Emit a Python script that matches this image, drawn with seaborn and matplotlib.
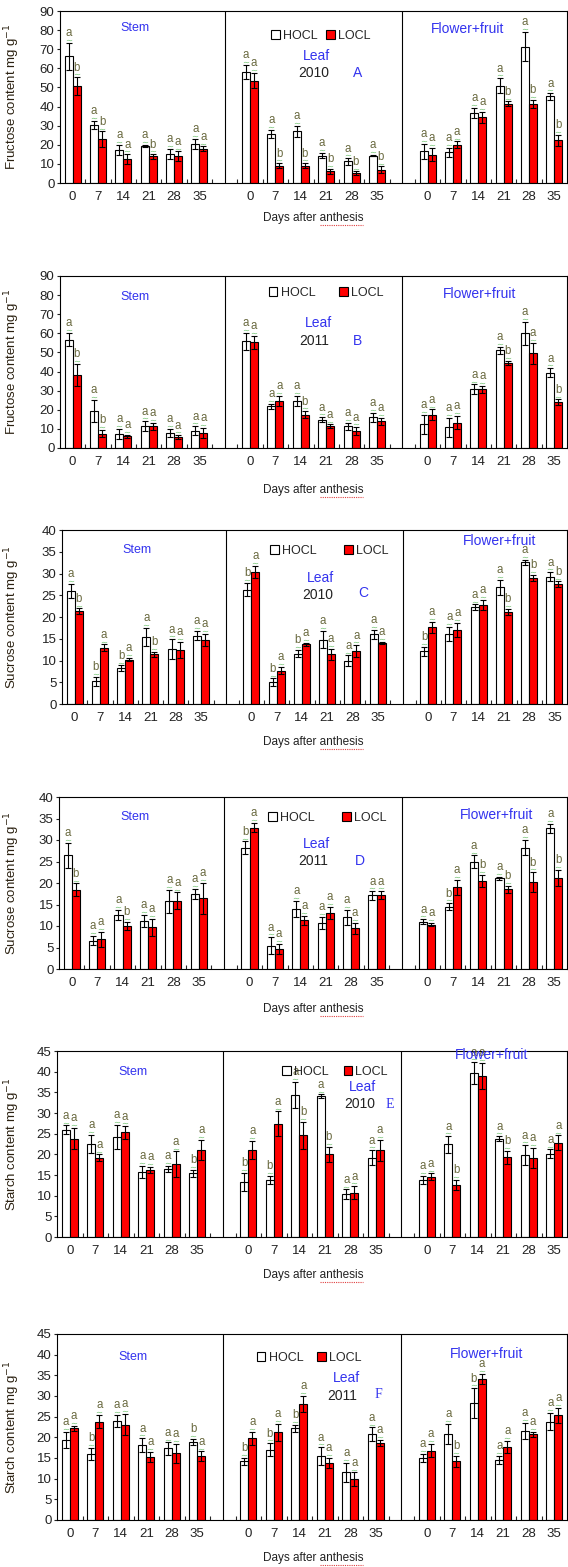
import numpy as np
import pandas as pd
import matplotlib
matplotlib.use("Agg")
import matplotlib.pyplot as plt
import matplotlib.transforms as mtransforms
from matplotlib.lines import Line2D
import seaborn as sns
from matplotlib.patches import Patch

sns.set_style("white")
plt.rcParams['font.family'] = ['Liberation Sans', 'DejaVu Sans']

days = ['0', '7', '14', '21', '28', '35']
organs = ['Stem', 'Leaf', 'Flower+fruit']
treatments = ['HOCL', 'LOCL']

# ---- Panel A: fructose 2010 (Stem | Leaf | Flower+fruit) ----
A_H = [66.2, 30.5, 17.4, 19.5, 15.3, 20.4, 58.0, 25.6, 27.0, 14.3, 11.3, 14.3, 16.5, 16.0, 36.6, 51.0, 71.4, 45.3]
A_He = [7.0, 2.2, 2.6, 0.5, 2.5, 2.6, 3.8, 2.3, 3.0, 1.4, 1.7, 0.4, 4.0, 2.3, 2.6, 3.8, 7.8, 1.7]
A_L = [50.8, 23.0, 12.5, 13.9, 14.0, 17.9, 53.6, 9.0, 9.0, 6.1, 5.2, 7.0, 14.8, 20.0, 34.5, 41.4, 41.4, 22.3]
A_Le = [4.6, 4.0, 2.6, 1.2, 2.5, 1.2, 4.0, 1.4, 1.4, 1.2, 0.9, 1.7, 3.5, 1.8, 2.9, 1.3, 2.1, 3.0]
A_Hl = "aaaaaa" "aaaaaa" "aaaaaa"
A_Ll = "bbabaa" "abbbbb" "aaabbb"

# ---- Panel B: fructose 2011 ----
B_H = [56.7, 19.3, 7.5, 11.4, 7.9, 9.1, 55.8, 21.9, 24.6, 14.9, 11.4, 16.1, 12.3, 10.9, 30.7, 51.2, 60.0, 39.5]
B_He = [3.5, 5.8, 2.6, 2.6, 2.3, 2.3, 4.4, 1.3, 2.6, 1.2, 1.8, 2.3, 5.2, 4.9, 2.6, 1.8, 6.1, 2.3]
B_L = [38.2, 7.5, 6.1, 11.4, 5.8, 7.9, 55.3, 24.6, 17.5, 11.4, 8.8, 14.0, 17.5, 13.2, 30.7, 44.4, 49.6, 24.0]
B_Le = [6.0, 2.0, 0.9, 1.8, 0.9, 2.6, 3.5, 2.6, 1.8, 0.9, 2.1, 1.8, 2.7, 3.5, 1.8, 1.2, 5.5, 1.4]
B_Hl = "aaaaaa" "aaaaaa" "aaaaaa"
B_Ll = "bbaaaa" "aabaaa" "aaabab"

# ---- Panel C: sucrose 2010 ----
C_H = [26.0, 5.25, 8.3, 15.4, 12.6, 15.7, 26.3, 5.0, 11.6, 14.8, 10.0, 16.0, 12.1, 16.1, 22.2, 26.8, 32.6, 29.3]
C_He = [1.6, 1.0, 0.6, 2.1, 2.3, 1.1, 1.5, 0.9, 0.9, 2.0, 1.2, 1.0, 1.0, 1.7, 0.7, 1.8, 0.6, 1.0]
C_L = [21.4, 12.9, 10.2, 11.4, 12.4, 14.8, 30.3, 7.7, 13.7, 11.4, 12.2, 14.1, 17.6, 17.1, 22.8, 21.2, 29.0, 27.6]
C_Le = [0.6, 0.8, 0.4, 0.6, 1.9, 1.4, 1.4, 0.8, 0.4, 1.3, 1.3, 0.2, 1.3, 1.6, 1.1, 0.7, 0.7, 0.6]
C_Hl = "abbaaa" "bbbaaa" "baaaaa"
C_Ll = "baabaa" "aaaaaa" "aaabbb"

# ---- Panel D: sucrose 2011 ----
D_H = [26.5, 6.6, 12.6, 11.2, 15.7, 17.4, 28.2, 5.4, 13.9, 10.8, 12.0, 17.1, 11.0, 14.5, 24.9, 21.1, 28.2, 32.7]
D_He = [2.9, 1.1, 1.1, 1.4, 2.7, 1.2, 1.5, 2.0, 1.9, 1.4, 1.7, 1.0, 0.6, 0.8, 1.5, 0.4, 1.8, 1.1]
D_L = [18.4, 6.9, 10.0, 9.7, 15.9, 16.4, 32.9, 4.6, 11.3, 13.1, 9.5, 17.2, 10.3, 19.0, 20.5, 18.5, 20.2, 21.1]
D_Le = [1.5, 1.8, 1.0, 2.0, 1.9, 3.7, 1.1, 1.2, 1.1, 1.4, 1.3, 0.9, 0.4, 1.7, 1.4, 0.9, 2.3, 1.9]
D_Hl = "aaaaaa" "baaaaa" "abaaaa"
D_Ll = "babaaa" "aaaaaa" "aabbbb"

# ---- Panel E: starch 2010 ----
E_H = [26.0, 22.5, 24.2, 15.7, 16.5, 15.4, 13.4, 13.8, 34.4, 34.1, 10.4, 19.2, 13.8, 22.4, 39.7, 23.8, 19.8, 20.2]
E_He = [1.0, 2.2, 3.0, 1.5, 0.7, 0.8, 2.2, 1.0, 3.2, 0.4, 1.1, 1.8, 1.0, 2.0, 2.6, 0.6, 2.4, 1.0]
E_L = [23.8, 19.2, 25.3, 16.2, 17.6, 21.1, 21.1, 27.4, 24.6, 20.0, 10.7, 21.0, 14.6, 12.6, 39.0, 19.3, 19.1, 22.8]
E_Le = [2.6, 0.8, 1.5, 0.8, 3.1, 2.4, 2.2, 3.0, 3.2, 1.8, 1.6, 2.5, 0.8, 1.2, 3.1, 1.6, 2.5, 1.8]
E_Hl = "aaaaab" "bbaaaa" "aaaaaa"
E_Ll = "aaaaaa" "aabbaa" "ababaa"

# ---- Panel F: starch 2011 ----
F_H = [19.4, 16.0, 24.0, 18.1, 17.3, 18.9, 14.2, 17.0, 22.2, 15.4, 11.5, 20.8, 15.0, 20.8, 28.3, 14.5, 21.5, 23.8]
F_He = [2.0, 1.5, 1.5, 1.7, 1.5, 0.7, 0.8, 1.6, 0.8, 2.2, 2.4, 1.6, 1.0, 2.4, 3.6, 1.0, 2.0, 2.1]
F_L = [22.2, 23.8, 23.1, 15.3, 16.1, 15.4, 19.8, 21.2, 28.1, 13.8, 9.9, 18.6, 16.8, 14.2, 34.2, 17.7, 20.8, 25.3]
F_Le = [0.6, 1.6, 2.6, 1.2, 2.3, 1.2, 1.6, 2.0, 2.0, 1.2, 1.6, 0.8, 1.6, 1.4, 1.2, 1.5, 0.6, 1.8]
F_Hl = "abaaab" "bbbaaa" "aabaaa"
F_Ll = "aaaaaa" "aaaaaa" "abaaaa"

panel_ylabels = ['Fructose content mg g$^{-1}$'] * 2 + ['Sucrose content mg g$^{-1}$'] * 2 + ['Starch content mg g$^{-1}$'] * 2
panel_ymax = [90, 90, 40, 40, 45, 45]
panel_ystep = [10, 10, 5, 5, 5, 5]
panel_years = ['2010', '2011', '2010', '2011', '2010', '2011']
panel_tags = ['A', 'B', 'C', 'D', 'E', 'F']

panels = [
    (A_H, A_He, A_Hl, A_L, A_Le, A_Ll),
    (B_H, B_He, B_Hl, B_L, B_Le, B_Ll),
    (C_H, C_He, C_Hl, C_L, C_Le, C_Ll),
    (D_H, D_He, D_Hl, D_L, D_Le, D_Ll),
    (E_H, E_He, E_Hl, E_L, E_Le, E_Ll),
    (F_H, F_He, F_Hl, F_L, F_Le, F_Ll),
]

# ---- layout (pixels) ----
W, H = 568, 1567
ax_px = [  # left, top, bottom
    (60, 11, 183), (60, 276, 448), (62, 530, 704),
    (59, 797, 969), (57, 1051, 1237), (57, 1334, 1520)]
right_px = 567
stem_pos = [(135, 28), (135, 297), (137, 550), (135, 817), (133, 1072), (133, 1357)]
flower_pos = [(468, 29), (480, 294), (500, 541), (497, 815), (492, 1055), (487, 1354)]
legend_pos = [(321, 36), (326, 293), (329, 551), (327, 818), (335, 1072), (309, 1358)]
legend_colsp = [0.7, 1.9, 2.2, 2.2, 1.2, 1.1]
leaf_pos = [(316, 56), (318, 323), (321, 578), (317, 844), (362, 1087), (346, 1378)]
year_pos = [(314, 73), (314, 341), (318, 595), (313, 861), (360, 1104), (342, 1396)]
tag_pos = [(358, 73), (357, 341), (363, 593), (360, 861), (390, 1104), (378, 1395)]
xlabel_y = [218, 490, 742, 1009, 1275, 1558]

BLUE = '#3333ee'
LETTER = '#6a6a40'
GREEN = '#5cb85c'
palette = {'HOCL': 'white', 'LOCL': '#ff0000'}

slot_order = []
for gi, org in enumerate(organs):
    slot_order += [f'{org} {d}' for d in days]
    if gi < 2:
        slot_order.append(f'gap{gi}')
data_slots = [f'{org} {d}' for org in organs for d in days]

fig = plt.figure(figsize=(W / 100, H / 100), dpi=100)


def fx(x):
    return x / W


def fy(y):
    return 1 - y / H


for p, (Hv, He, Hl, Lv, Le, Ll) in enumerate(panels):
    left, top, bottom = ax_px[p]
    ax = fig.add_axes([fx(left), fy(bottom), (right_px - left) / W, (bottom - top) / H])
    df = pd.DataFrame({
        'slot': data_slots * 2,
        'treatment': ['HOCL'] * 18 + ['LOCL'] * 18,
        'value': Hv + Lv,
        'err': He + Le,
        'letter': list(Hl) + list(Ll),
    })
    sns.barplot(data=df, x='slot', y='value', hue='treatment', order=slot_order,
                hue_order=treatments, palette=palette, edgecolor='black',
                linewidth=0.8, width=0.63, errorbar=None, saturation=1,
                legend=False, ax=ax, zorder=2)
    squig = ax.transData + mtransforms.ScaledTranslation(0, 2.0 / 72, fig.dpi_scale_trans)
    for cont, tr in zip(ax.containers, treatments):
        sub = df[df['treatment'] == tr].copy()
        sub['idx'] = sub['slot'].map(lambda s: slot_order.index(s))
        sub = sub.sort_values('idx')
        bars = sorted(cont.patches, key=lambda b: b.get_x())
        xs = np.array([b.get_x() + b.get_width() / 2 for b in bars])
        ys = np.array([b.get_height() for b in bars])
        errs = sub['err'].values
        ax.errorbar(xs, ys, yerr=errs, fmt='none', ecolor='black',
                    elinewidth=0.8, capsize=2.3, capthick=0.8, zorder=3)
        ax.plot(xs, ys + errs, ls='none', marker=r'$\sim$', ms=3.8, mew=0,
                color=GREEN, alpha=0.85, transform=squig, zorder=4, clip_on=False)
        for x, y, e, let in zip(xs, ys, errs, sub['letter'].values):
            ax.annotate(let, (x, y + e), xytext=(0, 2.6), textcoords='offset points',
                        ha='center', va='bottom', fontsize=8.3, color=LETTER, zorder=5,
                        annotation_clip=False)
    ax.axvline(6, color='black', lw=0.8, zorder=1)
    ax.axvline(13, color='black', lw=0.8, zorder=1)
    ax.set_xlim(-0.5, 19.5)
    ax.set_ylim(0, panel_ymax[p])
    ax.set_yticks(np.arange(0, panel_ymax[p] + 0.1, panel_ystep[p]))
    ax.set_xticks(range(20))
    ax.set_xticklabels(days + [''] + days + [''] + days)
    ax.set_xticks(np.arange(0.5, 19, 1), minor=True)
    ax.tick_params(axis='x', which='major', length=0, pad=6, labelsize=9.5, colors='#222222')
    ax.tick_params(axis='x', which='minor', direction='in', length=3, width=0.8, bottom=True)
    ax.tick_params(axis='y', length=2, width=0.8, direction='out', left=True, pad=2,
                   labelsize=9.5, colors='#222222')
    for s in ax.spines.values():
        s.set_color('black')
        s.set_linewidth(0.8)
    ax.set_xlabel('')
    ax.set_ylabel(panel_ylabels[p], fontsize=9.5, color='#2a2010')
    ax.yaxis.set_label_coords((22 - left) / (right_px - left), 0.5)

    fig.text(fx(stem_pos[p][0]), fy(stem_pos[p][1]), 'Stem', color=BLUE, fontsize=9,
             ha='center', va='center')
    fig.text(fx(flower_pos[p][0]), fy(flower_pos[p][1]), 'Flower+fruit', color=BLUE,
             fontsize=10, ha='center', va='center')
    fig.text(fx(leaf_pos[p][0]), fy(leaf_pos[p][1]), 'Leaf', color=BLUE, fontsize=10,
             ha='center', va='center')
    fig.text(fx(year_pos[p][0]), fy(year_pos[p][1]), panel_years[p], color='#222222',
             fontsize=10, ha='center', va='center')
    tag_family = ['Liberation Serif'] if panel_tags[p] in ('E', 'F') else ['Liberation Sans']
    fig.text(fx(tag_pos[p][0]), fy(tag_pos[p][1]), panel_tags[p], color=BLUE,
             fontsize=10, ha='center', va='center', family=tag_family)
    handles = [Patch(facecolor=palette[t], edgecolor='black', linewidth=0.8) for t in treatments]
    ax.legend(handles, treatments, loc='center', ncol=2, frameon=False, fontsize=9,
              handlelength=0.7, handleheight=0.7, handletextpad=0.25,
              columnspacing=legend_colsp[p], borderpad=0,
              bbox_to_anchor=(fx(legend_pos[p][0]), fy(legend_pos[p][1])),
              bbox_transform=fig.transFigure)
    fig.text(fx(313), fy(xlabel_y[p]), 'Days after anthesis', color='#222222',
             fontsize=8.5, ha='center', va='center')
    # red spell-check underline beneath "anthesis" as in the source image
    fig.add_artist(Line2D([fx(320), fx(363)], [fy(xlabel_y[p] + 7)] * 2,
                          color='#e04040', lw=0.8, ls=(0, (1, 1))))

fig.savefig('out.png', dpi=100, facecolor='white')
